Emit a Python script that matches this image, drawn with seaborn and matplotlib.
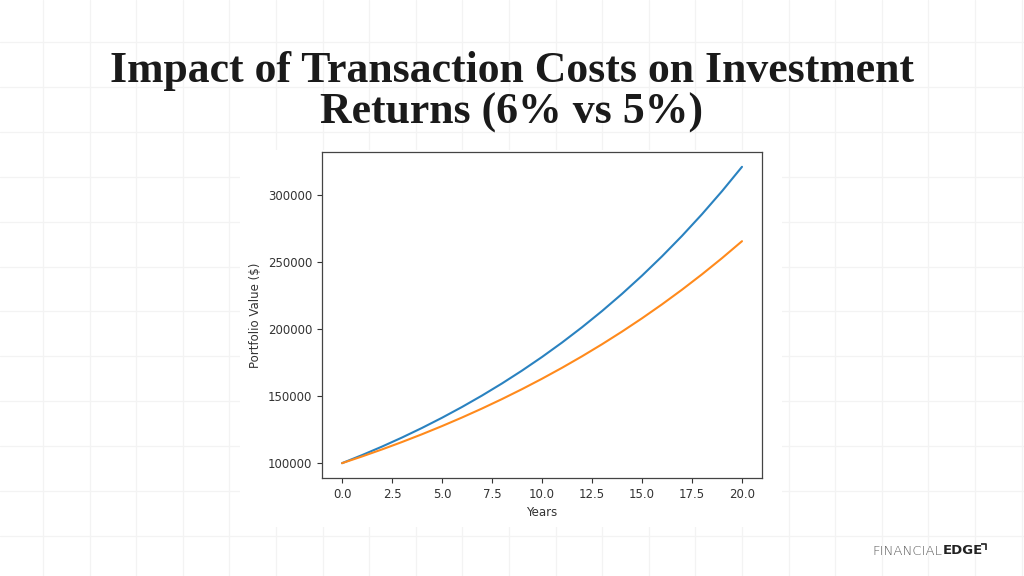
import numpy as np
import pandas as pd
import matplotlib.pyplot as plt
from matplotlib.patches import Rectangle
import seaborn as sns

years = list(range(21))
value_6pct = [100000, 106000, 112360, 119102, 126248, 133823, 141852, 150363,
              159385, 168948, 179085, 189830, 201220, 213293, 226090, 239656,
              254035, 269277, 285434, 302560, 320714]
value_5pct = [100000, 105000, 110250, 115763, 121551, 127628, 134010, 140710,
              147746, 155133, 162889, 171034, 179586, 188565, 197993, 207893,
              218287, 229202, 240662, 252695, 265330]
series_names = ['6% return', '5% return']

df = pd.DataFrame({
    'Years': years * 2,
    'Value': value_6pct + value_5pct,
    'Series': [series_names[0]] * len(years) + [series_names[1]] * len(years),
})

sns.set_style('ticks')
plt.rcParams['font.family'] = ['DejaVu Sans']

fig = plt.figure(figsize=(10.24, 5.76), dpi=100)
fig.patch.set_facecolor('white')

# faint background grid of the slide
bg = fig.add_axes([0, 0, 1, 1], zorder=-1)
bg.set_xlim(0, 1024)
bg.set_ylim(576, 0)
bg.axis('off')
for gx in np.arange(43, 1024, 46.6):
    bg.axvline(gx, color='#f3f3f3', lw=0.9, zorder=1)
for gy in np.arange(42, 576, 44.9):
    bg.axhline(gy, color='#f3f3f3', lw=0.9, zorder=1)
bg.add_patch(Rectangle((240, 150), 542, 377, facecolor='white',
                       edgecolor='none', zorder=3))

ax = fig.add_axes([322 / 1024, 1 - 478 / 576, 440 / 1024, 326 / 576])
sns.lineplot(data=df, x='Years', y='Value', hue='Series',
             palette=['#2a82c0', '#ff8a1c'], linewidth=1.5, legend=False, ax=ax)
ax.set_xticks([0, 2.5, 5, 7.5, 10, 12.5, 15, 17.5, 20])
ax.set_xticklabels(['0.0', '2.5', '5.0', '7.5', '10.0', '12.5', '15.0', '17.5', '20.0'])
ax.set_yticks([100000, 150000, 200000, 250000, 300000])
ax.set_yticklabels(['100000', '150000', '200000', '250000', '300000'])
ax.set_xlabel('Years', fontsize=8.5, color='#333333')
ax.set_ylabel('Portfolio Value ($)', fontsize=8.5, color='#333333')
ax.tick_params(labelsize=8.5, colors='#333333', length=3.5, width=0.8)
for sp in ax.spines.values():
    sp.set_visible(True)
    sp.set_color('#444444')
    sp.set_linewidth(0.9)

fig.text(0.5, 1 - 71 / 576, 'Impact of Transaction Costs on Investment',
         ha='center', va='center', fontsize=31.5, fontweight='bold',
         family='Liberation Serif', color='#1a1a1a')
fig.text(0.5, 1 - 113 / 576, 'Returns (6% vs 5%)',
         ha='center', va='center', fontsize=31.5, fontweight='bold',
         family='Liberation Serif', color='#1a1a1a')

# logo
t1 = fig.text(872 / 1024, 1 - 551 / 576, 'FINANCIAL', ha='left', va='center',
              fontsize=9.5, fontweight='light', color='#555555',
              family='DejaVu Sans Condensed')
ax.annotate('EDGE', xy=(1, 0.5), xycoords=t1, xytext=(0.5, 0),
            textcoords='offset points', ha='left', va='center',
            fontsize=9.5, fontweight='bold', color='#222222',
            family='DejaVu Sans', annotation_clip=False)
bg.plot([981, 986, 986], [544, 544, 550], color='#222222', lw=1.2, zorder=4,
        solid_capstyle='butt')

fig.savefig('out.png', dpi=100)
